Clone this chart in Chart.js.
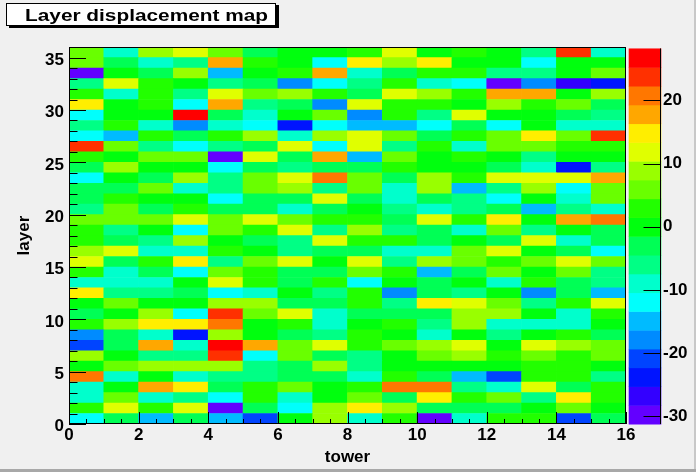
<!DOCTYPE html>
<html>
<head>
<meta charset="utf-8">
<title>Layer displacement map</title>
<script src="https://cdn.jsdelivr.net/npm/chart.js@4.4.0/dist/chart.umd.min.js"></script>
<style>
  html, body { margin: 0; padding: 0; background: #f0f0f0; }
  #wrap { width: 696px; height: 472px; }
</style>
</head>
<body>
<div id="wrap"><canvas id="layerMap" width="696" height="472"></canvas></div>
<script>
const towers = [0, 1, 2, 3, 4, 5, 6, 7, 8, 9, 10, 11, 12, 13, 14, 15];
const layers = [0, 1, 2, 3, 4, 5, 6, 7, 8, 9, 10, 11, 12, 13, 14, 15, 16, 17,
                18, 19, 20, 21, 22, 23, 24, 25, 26, 27, 28, 29, 30, 31, 32, 33, 34, 35];

// displacement per layer (first row = layer 0), one value per tower
const displacement = [
  [-12, -3, -15, -3, -15, -21, 0, 9, -9, 3, -30, -9, 3, 3, -21, -3],
  [3, 12, 3, 12, -30, -3, -12, 9, 15, 9, -3, -3, -3, 0, 6, 0],
  [-9, 6, -9, -6, -12, 3, -9, 0, 6, -3, 15, 3, 6, -6, 15, 3],
  [-9, 0, 18, 15, -3, 3, 6, 0, 3, 21, 21, -6, -9, 12, -3, 3],
  [21, -9, 0, -9, -6, -6, -3, -3, -9, 3, -3, -15, -21, 3, 3, -6],
  [0, 6, 9, 9, 9, -6, -3, 9, -6, 0, 0, 0, 0, 3, 3, 0],
  [9, 0, -6, -6, 24, -12, 6, -3, -6, 0, 6, 9, 3, 6, 3, 6],
  [-21, -3, 18, -9, 27, 18, 6, 12, 3, 6, 9, 12, 0, 12, 9, 6],
  [-18, -3, -9, -24, 9, 0, -3, -6, 3, 0, -9, 0, -6, 0, 3, -3],
  [3, 9, 15, 15, 21, 0, 3, -9, 0, 3, -6, 9, -9, -9, -9, 0],
  [-3, 0, 9, -12, 24, 6, 12, -9, -3, -3, -3, 9, 9, 0, -9, 3],
  [0, 6, 0, 0, 9, 9, -3, -3, 3, -6, 15, 12, 6, -6, 3, 12],
  [15, -6, -6, -3, -12, -9, 0, -6, 3, -18, -3, -6, 0, -18, -3, -15],
  [-9, -9, -9, 0, 12, 3, -3, 3, -12, 0, -3, 0, -9, 3, -3, -6],
  [3, -9, -3, -12, 6, 3, -3, -3, 6, 3, -15, -3, 6, 0, 6, -6],
  [12, -3, 3, 15, -6, 6, 12, 0, 12, -6, 9, 6, 3, 6, 12, 6],
  [9, 12, -9, -9, 3, 0, -6, -3, -3, -9, -9, 6, 12, 0, -3, -12],
  [3, -3, -6, 9, 0, -3, -6, 12, 3, 3, -3, 0, -3, 12, -9, -3],
  [3, -6, 0, -12, 6, 3, 12, -6, 9, -6, -3, -9, 6, -6, 0, -3],
  [6, 6, 6, 12, 6, 12, 6, 3, 3, -3, 12, 3, 15, 0, 18, 21],
  [-6, 6, -3, 3, -3, -3, -9, -3, 0, -6, -9, -6, -3, -15, -6, -9],
  [-3, 3, 0, 0, -12, -3, -3, 12, -3, -9, -3, -6, -12, 0, -9, 6],
  [-3, -3, 6, -9, -6, 6, 9, -6, 6, -9, 9, -15, -6, 9, -12, 6],
  [-12, 0, -3, 9, -6, 6, 12, 21, 6, -3, 9, 3, 12, 12, 12, 18],
  [-3, 9, 0, 0, -12, -3, -6, -3, -3, 3, 0, 0, -3, -9, -24, -6],
  [3, 0, 6, 6, -30, 12, -3, 18, -15, 6, 0, 3, 0, -6, 0, 0],
  [24, 6, -6, -12, -6, -3, 12, -12, 12, -6, 3, -9, 6, 6, 3, 3],
  [-12, -15, 3, -3, 3, 9, -9, 9, 12, 6, -3, 3, 6, 15, 6, 24],
  [-6, 3, -9, -18, -9, -12, -24, -12, -15, -15, -12, -3, -12, 0, -9, -9],
  [-12, 0, 0, 27, -3, -9, 0, 6, -18, 3, -6, 12, 0, 0, -3, -6],
  [15, 0, 3, -12, 18, -6, -3, -18, 12, 3, 3, 0, 9, 3, 6, -3],
  [3, -9, 3, -6, 12, 6, 9, 3, -3, 12, 9, 3, 18, 18, 0, 9],
  [-6, 12, 3, 0, -6, -3, -18, -12, -6, 3, -9, -12, -30, -18, -27, -24],
  [-30, 0, -3, 9, -15, 0, 3, 18, -9, -3, 3, 3, -6, -6, 0, 6],
  [6, -3, -9, -6, 18, 3, 0, -12, 15, 9, 15, 0, 0, -12, 0, 0],
  [6, -9, 9, 12, 6, -3, 0, 0, 3, 12, 0, 3, 0, -6, 24, -9]
];

const towerTicks = [0, 2, 4, 6, 8, 10, 12, 14, 16];
const layerTicks = [0, 5, 10, 15, 20, 25, 30, 35];
const zTicks = [-30, -20, -10, 0, 10, 20];

// colour scale range and the 20 contour colours (violet -> red)
const zLow = -31.2;
const zHigh = 28.2;
const palette = [
  '#6300ff', '#3300ff', '#0014ff', '#0044ff', '#008bff',
  '#00bbff', '#00fffc', '#00ffcc', '#00ff85', '#00ff55',
  '#00ff0e', '#22ff00', '#69ff00', '#99ff00', '#e0ff00',
  '#ffee00', '#ffa700', '#ff7700', '#ff3000', '#ff0000'
];

const colourFor = v => {
  let k = Math.floor((v - zLow) / (zHigh - zLow) * palette.length);
  k = Math.max(0, Math.min(palette.length - 1, k));
  return palette[k];
};

const FONT = '"Liberation Sans", Arial, Helvetica, sans-serif';
const tickFont = { family: FONT, size: 17, weight: 'bold' };
const titleFont = { family: FONT, size: 17, weight: 'bold' };

const datasets = layers.map((layer, i) => ({
  label: 'layer ' + layer,
  data: towers.map(t => ({ x: t + 0.5, y: [layer, layer + 1] })),
  backgroundColor: displacement[i].map(colourFor),
  borderWidth: 0,
  barPercentage: 1,
  categoryPercentage: 1,
  grouped: false
}));

const rootLook = {
  id: 'rootLook',
  afterDatasetsDraw(chart) {
    const { ctx, chartArea: a, scales: { x, y } } = chart;
    ctx.save();
    ctx.strokeStyle = '#000';
    ctx.lineWidth = 1;
    ctx.beginPath();
    for (let v = x.min; v <= x.max; v += 0.5) {
      const px = Math.round(x.getPixelForValue(v)) + 0.5;
      const len = towerTicks.includes(v) ? 12 : 5;
      ctx.moveTo(px, a.bottom);
      ctx.lineTo(px, a.bottom - len);
    }
    for (let v = y.min; v <= y.max; v += 1) {
      const py = Math.round(y.getPixelForValue(v)) + 0.5;
      const len = layerTicks.includes(v) ? 17 : 8.5;
      ctx.moveTo(a.left, py);
      ctx.lineTo(a.left + len, py);
    }
    ctx.stroke();
    ctx.strokeRect(Math.round(a.left) + 0.5, Math.round(a.top) + 0.5,
                   Math.round(a.right - a.left) - 1, Math.round(a.bottom - a.top) - 1);
    ctx.restore();
  },
  afterDraw(chart) {
    const { ctx, chartArea: a, scales: { z } } = chart;
    ctx.save();
    // colour bar
    const barL = a.right + 2.7;
    const barR = a.right + 35.3;
    const dz = (zHigh - zLow) / palette.length;
    palette.forEach((c, k) => {
      const y1 = z.getPixelForValue(zLow + k * dz);
      const y2 = z.getPixelForValue(zLow + (k + 1) * dz);
      ctx.fillStyle = c;
      ctx.fillRect(barL, y2, barR - barL, y1 - y2 + 0.5);
    });
    ctx.strokeStyle = '#000';
    ctx.lineWidth = 1;
    ctx.beginPath();
    const axX = Math.round(barR) - 0.5;
    ctx.moveTo(axX, z.getPixelForValue(zHigh));
    ctx.lineTo(axX, a.bottom);
    zTicks.forEach(v => {
      const py = Math.round(z.getPixelForValue(v)) + 0.5;
      ctx.moveTo(axX - 17, py);
      ctx.lineTo(axX, py);
    });
    ctx.stroke();

    // title box with shadow
    ctx.fillStyle = '#000';
    ctx.fillRect(9, 5, 270, 23);
    ctx.fillStyle = '#fff';
    ctx.fillRect(6, 3, 270, 23);
    ctx.strokeRect(6.5, 3.5, 269, 22);
    ctx.fillStyle = '#000';
    ctx.font = 'bold 17px ' + FONT;
    ctx.textBaseline = 'alphabetic';
    ctx.textAlign = 'left';
    const title = 'Layer displacement map';
    const stretch = 243 / ctx.measureText(title).width;
    ctx.translate(25, 21);
    ctx.scale(stretch, 1);
    ctx.fillText(title, 0, 0);
    ctx.setTransform(1, 0, 0, 1, 0, 0);

    // canvas bevel
    ctx.fillStyle = '#a8a8a8';
    ctx.fillRect(0, 469, 696, 3);
    ctx.fillStyle = '#c8c8c8';
    ctx.fillRect(694, 0, 2, 469);
    ctx.restore();
  }
};

new Chart(document.getElementById('layerMap'), {
  type: 'bar',
  data: { datasets },
  options: {
    responsive: false,
    animation: false,
    events: [],
    layout: { padding: { top: 46, left: 0, right: 0, bottom: 0 } },
    plugins: {
      legend: { display: false },
      tooltip: { enabled: false },
      title: { display: false }
    },
    scales: {
      x: {
        type: 'linear', position: 'bottom', min: 0, max: 16, offset: false,
        grid: { display: false, drawTicks: false, offset: false },
        border: { display: false },
        ticks: { stepSize: 2, padding: 1, font: tickFont, color: '#000',
                 maxRotation: 0, autoSkip: false, includeBounds: false },
        title: { display: true, text: 'tower', font: titleFont, color: '#000',
                 padding: { top: 0, bottom: 4 } },
        afterFit: s => { s.height = 48; }
      },
      y: {
        type: 'linear', position: 'left', min: 0, max: 36,
        grid: { display: false, drawTicks: false },
        border: { display: false },
        ticks: { stepSize: 5, padding: 5, labelOffset: 2.5, font: tickFont,
                 color: '#000', autoSkip: false, includeBounds: false },
        title: { display: true, text: 'layer', font: titleFont, color: '#000',
                 padding: { top: 14, bottom: 0 } },
        afterFit: s => { s.width = 69; }
      },
      z: {
        axis: 'y', type: 'linear', position: 'right', min: -31.2, max: 28.4,
        grid: { display: false, drawTicks: false },
        border: { display: false },
        ticks: { stepSize: 10, padding: 37, font: tickFont, color: '#000',
                 autoSkip: false, includeBounds: false },
        afterFit: s => { s.width = 70; }
      }
    }
  },
  plugins: [rootLook]
});
</script>
</body>
</html>
